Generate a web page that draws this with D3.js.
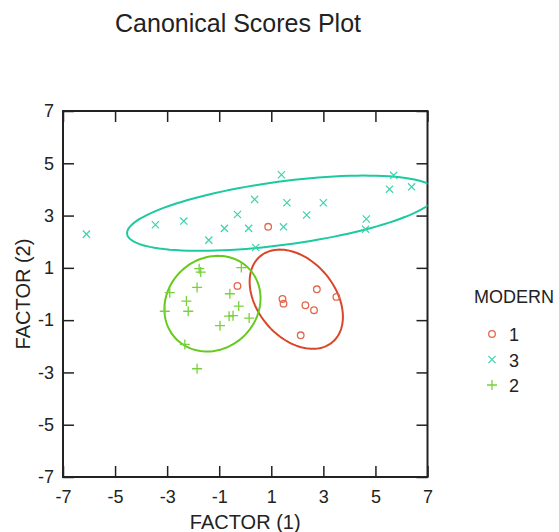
<!DOCTYPE html>
<html>
<head>
<meta charset="utf-8">
<script src="https://cdn.jsdelivr.net/npm/d3@7"></script>
<style>
  body { margin: 0; background: #fff; }
  svg { display: block; font-family: "Liberation Sans", Arial, sans-serif; }
</style>
</head>
<body>
<svg width="559" height="532"></svg>
<script>
// group labels (legend order) and colours
const groups = ["1", "3", "2"];
const lineColors = ["#d9472b", "#1dc9a0", "#66c91e"];
const markColors = ["#e2664c", "#3dd2ad", "#78d13a"];

// MODERN = 1 (circles)
const x1 = [0.88, -0.30, 2.75, 3.50, 1.43, 1.47, 2.31, 2.64, 2.13];
const y1 = [2.57, 0.31, 0.18, -0.11, -0.19, -0.37, -0.43, -0.62, -1.58];
// MODERN = 3 (crosses)
const x3 = [-6.10, -3.45, -2.36, -1.40, -0.80, -0.30, 0.13, 0.36, 0.40, 1.39, 1.60, 3.00, 2.36, 1.47, 5.70, 5.54, 6.39, 4.65, 4.62];
const y3 = [2.29, 2.65, 2.79, 2.06, 2.51, 3.04, 2.51, 3.62, 1.78, 4.56, 3.49, 3.49, 3.02, 2.57, 4.54, 4.01, 4.10, 2.87, 2.48];
// MODERN = 2 (plus)
const x2 = [-1.77, -1.71, -0.15, -1.85, -2.90, -0.59, -2.26, -0.25, -3.09, -2.19, -0.62, -0.47, 0.15, -0.97, -2.32, -1.85];
const y2 = [0.97, 0.84, 1.01, 0.25, 0.05, 0.01, -0.27, -0.46, -0.66, -0.66, -0.85, -0.83, -0.92, -1.21, -1.93, -2.86];

// ellipses (order 1, 3, 2): centre, semi axes, angle in degrees
const ellCx = [1.96, 1.42, -1.26];
const ellCy = [-0.20, 3.09, -0.37];
const ellA = [2.15, 6.01, 1.94];
const ellB = [1.48, 1.21, 1.73];
const ellAngle = [-49.7, 7.6, 42.6];

const tickVals = [-7, -5, -3, -1, 1, 3, 5, 7];

const svg = d3.select("svg");
const area = { left: 63, right: 427.5, top: 111, bottom: 477 };

const scX = d3.scaleLinear().domain([-7, 7]).range([area.left, area.right]);
const scY = d3.scaleLinear().domain([-7, 7]).range([area.bottom, area.top]);

// title
svg.append("text")
    .attr("x", 238).attr("y", 32)
    .attr("text-anchor", "middle")
    .style("font-size", "25px")
    .style("fill", "#222")
    .text("Canonical Scores Plot");

// clip for ellipses
svg.append("clipPath").attr("id", "plotClip")
  .append("rect")
    .attr("x", area.left).attr("y", area.top)
    .attr("width", area.right - area.left).attr("height", area.bottom - area.top);

// axes with inward ticks
const tick = 11;
const fmt = d => String(d);
const gx = svg.append("g")
    .attr("transform", `translate(0, ${area.bottom})`)
    .call(d3.axisBottom(scX).tickValues(tickVals).tickSizeInner(-tick).tickSizeOuter(0).tickPadding(9).tickFormat(fmt));
const gy = svg.append("g")
    .attr("transform", `translate(${area.left}, 0)`)
    .call(d3.axisLeft(scY).tickValues(tickVals).tickSizeInner(-tick).tickSizeOuter(0).tickPadding(9).tickFormat(fmt));
const gt = svg.append("g")
    .attr("transform", `translate(0, ${area.top})`)
    .call(d3.axisTop(scX).tickValues(tickVals).tickSizeInner(-tick).tickSizeOuter(0).tickFormat(""));
const gr = svg.append("g")
    .attr("transform", `translate(${area.right}, 0)`)
    .call(d3.axisRight(scY).tickValues(tickVals).tickSizeInner(-tick).tickSizeOuter(0).tickFormat(""));

[gx, gy, gt, gr].forEach(g => {
    g.select(".domain").remove();
    g.selectAll("line").attr("stroke", "#222").attr("stroke-width", 1.5);
    g.selectAll("text").style("font-size", "18px").style("fill", "#222")
        .style("font-family", "'Liberation Sans', Arial, sans-serif");
});
gx.selectAll("text").attr("dy", "0.95em");

svg.append("rect")
    .attr("x", area.left).attr("y", area.top)
    .attr("width", area.right - area.left).attr("height", area.bottom - area.top)
    .attr("fill", "none").attr("stroke", "#222").attr("stroke-width", 2);

// axis titles
svg.append("text")
    .attr("x", (area.left + area.right) / 2).attr("y", 529)
    .attr("text-anchor", "middle")
    .style("font-size", "20px").style("fill", "#222")
    .text("FACTOR (1)");
svg.append("text")
    .attr("transform", `translate(30, ${(area.top + area.bottom) / 2}) rotate(-90)`)
    .attr("text-anchor", "middle")
    .style("font-size", "20px").style("fill", "#222")
    .text("FACTOR (2)");

// ellipses
const ellG = svg.append("g").attr("clip-path", "url(#plotClip)");
for (let i = 0; i < groups.length; i++) {
    const th = ellAngle[i] * Math.PI / 180;
    const pts = d3.range(0, 361, 3).map(deg => {
        const t = deg * Math.PI / 180;
        const u = ellA[i] * Math.cos(t), v = ellB[i] * Math.sin(t);
        return [ellCx[i] + u * Math.cos(th) - v * Math.sin(th),
                ellCy[i] + u * Math.sin(th) + v * Math.cos(th)];
    });
    ellG.append("path")
        .attr("d", d3.line().x(d => scX(d[0])).y(d => scY(d[1])).curve(d3.curveLinearClosed)(pts))
        .attr("fill", "none")
        .attr("stroke", lineColors[i])
        .attr("stroke-width", 2);
}

// marker drawing
function drawMarker(g, kind, cx, cy, color) {
    if (kind === "circle") {
        g.append("circle").attr("cx", cx).attr("cy", cy).attr("r", 3.3)
            .attr("fill", "none").attr("stroke", color).attr("stroke-width", 1.3);
    } else if (kind === "x") {
        const s = 3.6;
        g.append("path").attr("d", `M${cx - s},${cy - s}L${cx + s},${cy + s}M${cx - s},${cy + s}L${cx + s},${cy - s}`)
            .attr("stroke", color).attr("stroke-width", 1.2).attr("fill", "none");
    } else {
        const s = 5;
        g.append("path").attr("d", `M${cx - s},${cy}L${cx + s},${cy}M${cx},${cy - s}L${cx},${cy + s}`)
            .attr("stroke", color).attr("stroke-width", 1.3).attr("fill", "none");
    }
}

const kinds = ["circle", "x", "plus"];
const xs = [x1, x3, x2];
const ys = [y1, y3, y2];
const ptG = svg.append("g");
for (let i = 0; i < groups.length; i++) {
    xs[i].forEach((xv, j) => drawMarker(ptG, kinds[i], scX(xv), scY(ys[i][j]), markColors[i]));
}

// legend
const leg = svg.append("g");
leg.append("text").attr("x", 474).attr("y", 303)
    .style("font-size", "18px").style("fill", "#222").text("MODERN");
groups.forEach((g, i) => {
    const yy = 334 + i * 25.5;
    drawMarker(leg, kinds[i], 492, yy, markColors[i]);
    leg.append("text").attr("x", 509).attr("y", yy + 7)
        .style("font-size", "18px").style("fill", "#222").text(g);
});
</script>
</body>
</html>
